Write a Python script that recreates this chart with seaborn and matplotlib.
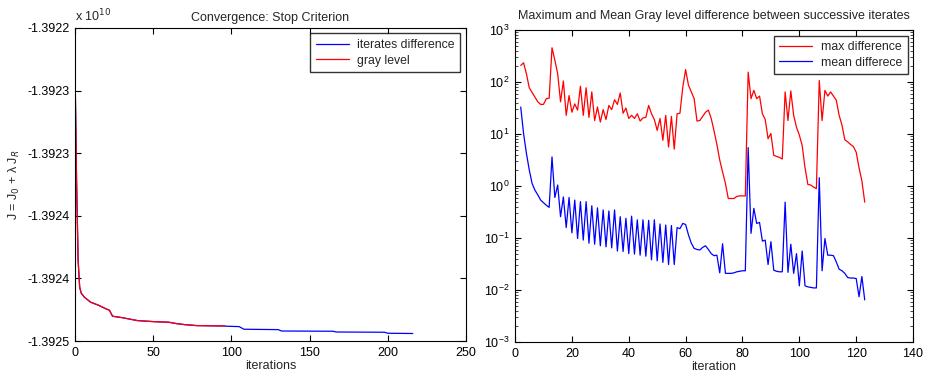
import numpy as np
import matplotlib
matplotlib.use("Agg")
import matplotlib.pyplot as plt
import seaborn as sns

# ---- left panel: objective J (units of 1e10) ----
conv_iter = [0, 1, 2, 3, 4, 6, 10, 15, 20, 22, 24, 30, 40, 50, 60, 65, 70, 78, 96]
conv_gray = [-1.3922307, -1.3923214, -1.3923854, -1.3924070, -1.3924118, -1.3924150,
             -1.3924190, -1.3924214, -1.3924244, -1.3924254, -1.3924302, -1.3924313,
             -1.3924337, -1.3924345, -1.3924350, -1.3924361, -1.3924369, -1.3924377,
             -1.3924380]
diff_iter = conv_iter + [97, 105, 108, 130, 132, 165, 167, 198, 200, 216]
diff_vals = conv_gray + [-1.3924382, -1.3924385, -1.3924406, -1.3924409, -1.3924420,
                         -1.3924422, -1.3924428, -1.3924430, -1.3924438, -1.3924440]
j_ticks = [-1.39245, -1.3924, -1.39235, -1.3923, -1.39225, -1.3922]
j_tick_labels = ["-1.3925", "-1.3924", "-1.3924", "-1.3923", "-1.3923", "-1.3922"]

# ---- right panel: log10 of max / mean gray level difference, iterations 2..123 ----
iters = list(range(2, 124))
log_max = [
    2.32, 2.37, 2.16, 1.89, 1.80, 1.71, 1.62, 1.57, 1.57, 1.68, 1.69,      # 2-12
    2.66, 2.42, 2.16, 1.62, 2.02, 1.36, 1.74, 1.42, 1.58, 1.46, 1.92,      # 13-23
    1.36, 1.89, 1.32, 1.81, 1.26, 1.52, 1.23, 1.47, 1.28, 1.55, 1.47,      # 24-34
    1.66, 1.57, 1.79, 1.40, 1.50, 1.30, 1.36, 1.30, 1.39, 1.25, 1.31,      # 35-45
    1.32, 1.55, 1.39, 1.28, 1.07, 1.30, 0.88, 1.36, 0.75, 1.34, 0.71,      # 46-56
    1.39, 1.40, 1.90, 2.24, 1.94, 1.81, 1.68, 1.25, 1.26, 1.34, 1.42,      # 57-67
    1.46, 1.30, 1.06, 0.80, 0.50, 0.27, 0.05, -0.24, -0.24, -0.24, -0.20,  # 68-78
    -0.19, -0.19, -0.19, 2.19, 1.68, 1.84, 1.68, 1.73, 1.39, 1.28, 0.91,   # 79-89
    1.01, 0.59, 0.57, 0.55, 0.52, 1.81, 1.26, 1.83, 1.36, 1.13, 0.98,      # 90-100
    0.78, 0.35, 0.03, 0.02, -0.02, -0.05, 2.03, 1.26, 1.84, 1.73, 1.81,    # 101-111
    1.73, 1.65, 1.36, 1.17, 0.89, 0.85, 0.80, 0.76, 0.65, 0.35, 0.10,      # 112-122
    -0.31,                                                                 # 123
]
log_mean = [
    1.52, 1.01, 0.63, 0.31, 0.05, -0.08, -0.17, -0.27, -0.32, -0.37, -0.41,     # 2-12
    0.56, -0.22, 0.02, -0.59, -0.21, -0.80, -0.22, -0.90, -0.27, -1.01, -0.30,  # 13-23
    -1.04, -0.30, -1.10, -0.38, -1.12, -0.42, -1.15, -0.46, -1.17, -0.48,      # 24-33
    -1.19, -0.46, -1.25, -0.59, -1.26, -0.62, -1.30, -0.58, -1.31, -0.65,      # 34-43
    -1.33, -0.65, -1.35, -0.66, -1.42, -0.65, -1.44, -0.73, -1.47, -0.75,      # 44-53
    -1.51, -0.76, -1.51, -0.80, -0.82, -0.72, -0.74, -0.94, -1.10, -1.20,      # 54-63
    -1.22, -1.23, -1.18, -1.15, -1.22, -1.30, -1.34, -1.33, -1.67, -1.11,      # 64-73
    -1.68, -1.68, -1.68, -1.67, -1.65, -1.64, -1.63, -1.63, 0.74, -0.91,       # 74-83
    -0.43, -0.72, -0.70, -1.06, -1.04, -1.51, -1.07, -1.62, -1.64, -1.65,      # 84-93
    -1.65, -0.31, -1.66, -1.12, -1.68, -1.30, -1.92, -1.25, -1.92, -1.94,      # 94-103
    -1.95, -1.96, -1.96, 0.16, -1.63, -1.01, -1.33, -1.33, -1.34, -1.46,       # 104-113
    -1.60, -1.63, -1.68, -1.76, -1.77, -1.77, -1.78, -2.13, -1.74, -2.19,      # 114-123
]
max_diff = 10.0 ** np.array(log_max)
mean_diff = 10.0 ** np.array(log_mean)

sns.set_style("ticks")
plt.rcParams['font.family'] = ['Liberation Sans', 'DejaVu Sans']
plt.rcParams['xtick.direction'] = 'in'
plt.rcParams['ytick.direction'] = 'in'
plt.rcParams['xtick.top'] = True
plt.rcParams['ytick.right'] = True
plt.rcParams['axes.linewidth'] = 0.8

fig = plt.figure(figsize=(9.28, 3.74), dpi=100)
ax1 = fig.add_axes([0.0808, 0.0882, 0.4213, 0.837])
ax2 = fig.add_axes([0.555, 0.0856, 0.4289, 0.834])

leg_kw = dict(loc="upper right", fontsize=8.8, frameon=True, fancybox=False,
              borderaxespad=0.45, handlelength=2.7, labelspacing=0.3,
              borderpad=0.45, handletextpad=0.7)

# left
sns.lineplot(x=diff_iter, y=diff_vals, ax=ax1, color="#0000ff", linewidth=0.9,
             label="iterates difference")
sns.lineplot(x=conv_iter, y=conv_gray, ax=ax1, color="#ff0000", linewidth=0.9,
             label="gray level")
ax1.set_xlim(0, 250)
ax1.set_ylim(-1.39245, -1.3922)
ax1.set_xticks([0, 50, 100, 150, 200, 250])
ax1.set_yticks(j_ticks)
ax1.set_yticklabels(j_tick_labels)
ax1.tick_params(labelsize=9, length=4, width=0.8, colors="black", pad=4)
ax1.set_xlabel("iterations", fontsize=9, labelpad=1)
ax1.set_ylabel("J = J$_0$ + λ J$_R$", fontsize=9, labelpad=4)
ax1.set_title("Convergence: Stop Criterion", fontsize=9, pad=5)
ax1.text(0.0, 1.012, "x 10$^{10}$", transform=ax1.transAxes, fontsize=9,
         ha="left", va="bottom")
leg1 = ax1.legend(**leg_kw)
leg1.get_frame().set_edgecolor("black")
leg1.get_frame().set_linewidth(1.0)

# right
sns.lineplot(x=iters, y=max_diff, ax=ax2, color="#ff0000", linewidth=0.9,
             label="max difference")
sns.lineplot(x=iters, y=mean_diff, ax=ax2, color="#0000ff", linewidth=0.9,
             label="mean differece")
ax2.set_yscale("log")
ax2.set_xlim(0, 140)
ax2.set_ylim(1e-3, 1e3)
ax2.set_xticks(range(0, 141, 20))
ax2.set_yticks([1e-3, 1e-2, 1e-1, 1e0, 1e1, 1e2, 1e3])
ax2.tick_params(labelsize=9, length=4, width=0.8, colors="black", pad=4)
ax2.tick_params(which="minor", length=2, width=0.6, left=True, right=True)
ax2.set_xlabel("iteration", fontsize=9, labelpad=1)
ax2.set_title("Maximum and Mean Gray level difference between successive iterates",
              fontsize=9, pad=8)
leg2 = ax2.legend(**leg_kw)
leg2.get_frame().set_edgecolor("black")
leg2.get_frame().set_linewidth(1.0)

for ax in (ax1, ax2):
    for s in ax.spines.values():
        s.set_visible(True)
        s.set_color("black")

fig.savefig("out.png", dpi=100)
